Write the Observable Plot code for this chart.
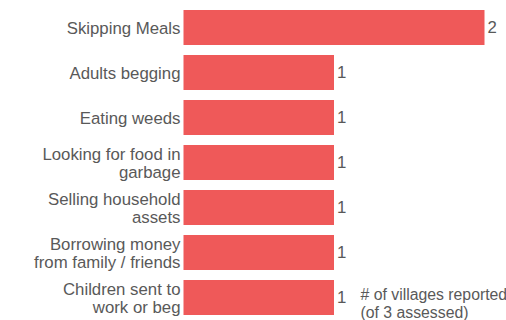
<!DOCTYPE html>
<html>
<head>
<meta charset="utf-8">
<script src="https://cdn.jsdelivr.net/npm/d3@7"></script>
<script src="https://cdn.jsdelivr.net/npm/@observablehq/plot@0.6"></script>
<style>
  html, body { margin: 0; padding: 0; background: #fff; }
  #chart { width: 506px; height: 320px; }
</style>
</head>
<body>
<div id="chart"></div>
<script>
const categories = [
  "Skipping Meals",
  "Adults begging",
  "Eating weeds",
  "Looking for food in\ngarbage",
  "Selling household\nassets",
  "Borrowing money\nfrom family / friends",
  "Children sent to\nwork or beg"
];
const villages = [2, 1, 1, 1, 1, 1, 1];
const note = "# of villages reported\n(of 3 assessed)";

const data = categories.map((c, i) => ({category: c, value: villages[i]}));

const textColor = "#595959";
const chart = Plot.plot({
  width: 506,
  height: 320,
  marginLeft: 183.5,
  marginRight: 21.5,
  marginTop: 4.4,
  marginBottom: 0.3,
  style: {fontFamily: "'Liberation Sans', Arial, sans-serif", color: textColor, background: "#fff"},
  x: {domain: [0, 2], axis: null},
  y: {domain: categories, paddingInner: 0.23, paddingOuter: 0.08, label: null},
  marks: [
    Plot.barX(data, {x: "value", y: "category", fill: "#ef5959"}),
    Plot.text(data, {x: "value", y: "category", text: d => String(d.value), textAnchor: "start", dx: 2.5, fontSize: 16.8, fill: textColor}),
    Plot.axisY({tickSize: 0, tickPadding: 3.5, fontSize: 16.8, lineHeight: 1.11, fill: textColor, label: null}),
    Plot.text([note], {frameAnchor: "bottom-right", text: d => d, textAnchor: "start", lineAnchor: "middle", dx: -124.5, dy: -17.3, fontSize: 15.8, lineHeight: 1.18, fill: textColor})
  ]
});
document.getElementById("chart").appendChild(chart);
</script>
</body>
</html>
